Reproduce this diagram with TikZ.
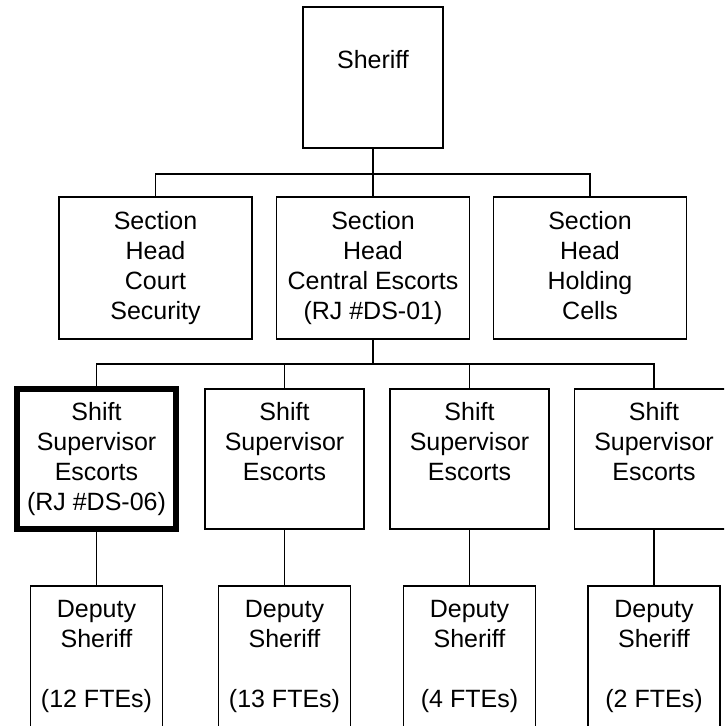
\documentclass[tikz,border=0pt]{standalone}
\usepackage{fontspec}
\setmainfont{Liberation Sans}
\newcommand\topstrut{\rule{0pt}{24pt}}
\newcommand\botstrut{\rule[-6pt]{0pt}{6pt}}

\begin{document}
\begin{tikzpicture}
      [x=1pt,y=-1pt,line width=1.5pt,
       every node/.style={draw,rectangle,inner sep=0pt,align=center,
         font=\fontsize{25}{30}\selectfont,
         execute at begin node=\topstrut,execute at end node=\botstrut},
       level2/.style={minimum width=193pt,minimum height=142pt},
       level3/.style={minimum width=159pt,minimum height=140pt},
       level4/.style={minimum width=132pt,minimum height=142pt},
       thickbox/.style={line width=5.5pt}]
      \useasboundingbox (0,0) rectangle (724,726);
      \clip (0,0) rectangle (724,726);

      \node [minimum width=140pt,minimum height=141pt] (sheriff) at (373,77.5) {Sheriff\\};

      \node [level2] (court) at (155.5,268) {Section\\Head\\Court\\Security};
      \node [level2] (central) at (373,268) {Section\\Head\\Central Escorts\\(RJ \#DS-01)};
      \node [level2] (holding) at (590,268) {Section\\Head\\Holding\\Cells};

      \node [level3,thickbox] (shiftA) at (96.5,459) {Shift\\Supervisor\\Escorts\\(RJ \#DS-06)};
      \node [level3] (shiftB) at (284.5,459) {Shift\\Supervisor\\Escorts\\};
      \node [level3] (shiftC) at (469.5,459) {Shift\\Supervisor\\Escorts\\};
      \node [level3] (shiftD) at (654,459) {Shift\\Supervisor\\Escorts\\};

      \node [level4] (deputyA) at (96.5,657) {Deputy\\Sheriff\\\strut\\(12 FTEs)};
      \node [level4] (deputyB) at (284.5,657) {Deputy\\Sheriff\\\strut\\(13 FTEs)};
      \node [level4] (deputyC) at (469.5,657) {Deputy\\Sheriff\\\strut\\(4 FTEs)};
      \node [level4] (deputyD) at (654,657) {Deputy\\Sheriff\\\strut\\(2 FTEs)};

      \draw (sheriff.south) -- ++(0,25) coordinate (bus1);
      \foreach \to in {court, central, holding}
      \draw (bus1) -| (\to.north);

      \draw (central.south) -- ++(0,24) coordinate (bus2);
      \foreach \to in {shiftA, shiftB, shiftC, shiftD}
      \draw (bus2) -| (\to.north);

      \foreach \from/\to in {shiftA/deputyA, shiftB/deputyB, shiftC/deputyC, shiftD/deputyD}
      \draw (\from) -- (\to);
    \end{tikzpicture}
\end{document}
